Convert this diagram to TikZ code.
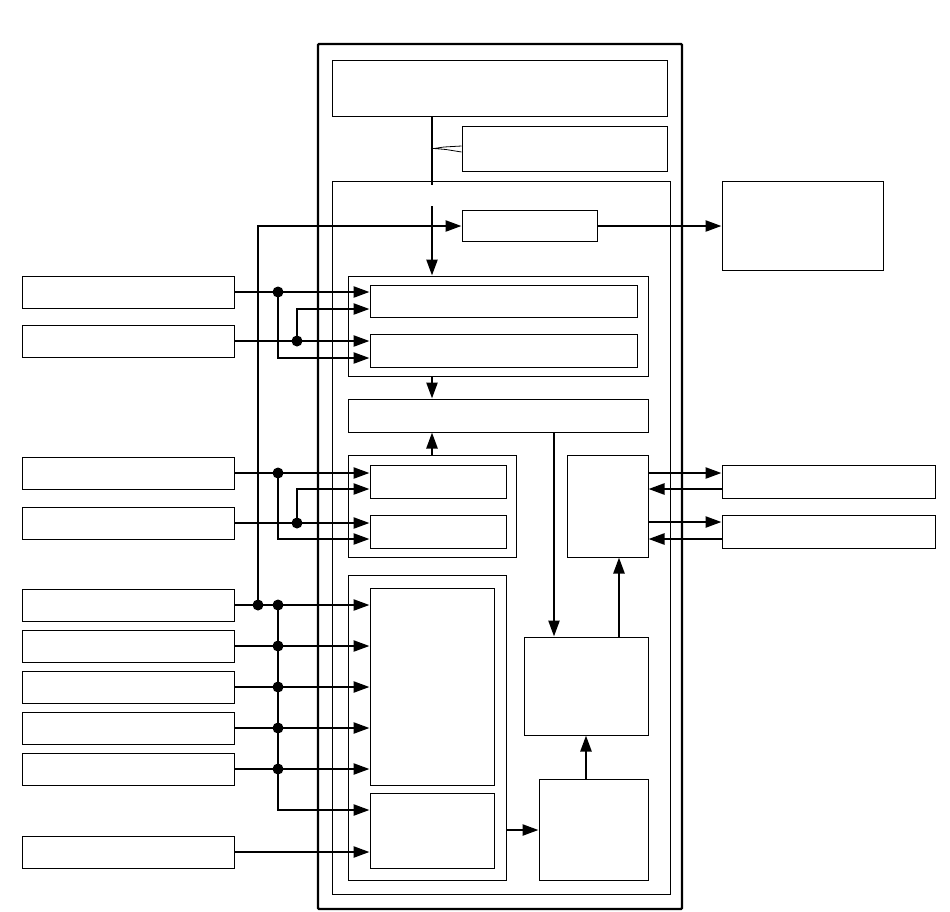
\documentclass[tikz,border=0pt]{standalone}
\usepackage{tikz}
\usetikzlibrary{arrows.meta, positioning, calc}

\begin{document}
\begin{tikzpicture}[x=1pt, y=-1pt, >={Triangle[length=16pt,width=11pt]},
  blk/.style={draw, line width=1pt, minimum width=#1, inner sep=0pt},
  inbox/.style={blk=212pt, minimum height=32pt},
  wire/.style={line width=2.4pt},
  dot/.style={circle, fill, inner sep=0pt, minimum size=11pt}]
\useasboundingbox (0,0) rectangle (950,911);
% housing and frames
\node[draw, line width=2.4pt, minimum width=364pt, minimum height=865pt, rounded corners=1pt] (case) at (500,476.5) {};
\node[blk=335pt, minimum height=56pt] (top) at (499.5,88) {};
\node[blk=205pt, minimum height=45pt] (radio) at (564.5,148.5) {};
\node[blk=338pt, minimum height=713pt] (frame) at (501,537.5) {};
\node[blk=135pt, minimum height=31pt] (enc) at (529.5,226) {};
\node[blk=161pt, minimum height=89pt] (ext) at (802.5,225.5) {};
% group 1
\node[blk=300pt, minimum height=100pt] (g1) at (498,326) {};
\node[blk=267pt, minimum height=32pt] (g1a) at (503.5,301) {};
\node[blk=267pt, minimum height=33pt] (g1b) at (503.5,350.5) {};
\node[blk=300pt, minimum height=33pt] (mid) at (498,415.5) {};
% group 2
\node[blk=168pt, minimum height=102pt] (g2) at (432,506) {};
\node[blk=136pt, minimum height=33pt] (g2a) at (438,481.5) {};
\node[blk=136pt, minimum height=33pt] (g2b) at (438,531.5) {};
\node[blk=81pt, minimum height=102pt] (port) at (607.5,506) {};
\node[blk=213pt, minimum height=33pt] (r1) at (828.5,481.5) {};
\node[blk=213pt, minimum height=33pt] (r2) at (828.5,531.5) {};
% group 3
\node[blk=158pt, minimum height=305pt] (g3) at (427,727.5) {};
\node[blk=124pt, minimum height=197pt] (g3a) at (432,686.5) {};
\node[blk=124pt, minimum height=75pt] (g3b) at (432,830.5) {};
\node[blk=124pt, minimum height=98pt] (cpu) at (586,686) {};
\node[blk=109pt, minimum height=101pt] (pwr) at (593.5,830) {};
% inputs
\node[inbox] (in1) at (128,292) {};
\node[inbox] (in2) at (128,341) {};
\node[inbox] (in3) at (128,473) {};
\node[inbox] (in4) at (128,523) {};
\foreach \i/\y in {5/605,6/646,7/687,8/728,9/769,10/852}
  \node[inbox] (in\i) at (128,\y) {};

\coordinate (tapA) at (432,185);
\coordinate (tapB) at (432,206);
\coordinate (j0) at (258,605);
\coordinate (busend) at (278,810);
\coordinate (xm) at (554,0);
\coordinate (xr) at (619,0);

% top link
\draw[wire] (top.south -| tapA) -- (tapA);
\draw[wire,->] (tapB) -- (tapB |- g1.north);
\draw[line width=.8pt] ([yshift=2.5pt]radio.west) -- (444,147) -- (434,148.5) -- (446,149.5) -- ([yshift=-3.5pt]radio.west);
\draw[wire,->] (j0) |- (enc.west);
\draw[wire,->] (enc.east) -- (enc.east -| ext.west);
\node[dot] at (j0) {};

% group 1 inputs
\draw[wire,->] (in1.east) -- (in1 -| g1a.west);
\draw[wire,->] (in2.east) -- (in2 -| g1b.west);
\node[dot] (d1) at (278,292) {};
\node[dot] (d2) at (297,341) {};
\draw[wire,->] (d1.center) |- ([yshift=-7.5pt]g1b.west);
\draw[wire,->] (d2.center) |- ([yshift=-8pt]g1a.west);
\draw[wire,->] (g1.south -| tapA) -- (mid.north -| tapA);

% group 2 inputs
\draw[wire,->] (in3.east) -- (in3 -| g2a.west);
\draw[wire,->] (in4.east) -- (in4 -| g2b.west);
\node[dot] (d3) at (278,473) {};
\node[dot] (d4) at (297,523) {};
\draw[wire,->] (d3.center) |- ([yshift=-7.5pt]g2b.west);
\draw[wire,->] (d4.center) |- ([yshift=-7.5pt]g2a.west);
\draw[wire,->] (g2.north -| tapA) -- (mid.south -| tapA);

% ports
\draw[wire,->] ([yshift=8.5pt]r1.west -| port.east) -- ([yshift=8.5pt]r1.west);
\draw[wire,<-] ([yshift=-7.5pt]r1.west -| port.east) -- ([yshift=-7.5pt]r1.west);
\draw[wire,->] ([yshift=9.5pt]r2.west -| port.east) -- ([yshift=9.5pt]r2.west);
\draw[wire,<-] ([yshift=-7.5pt]r2.west -| port.east) -- ([yshift=-7.5pt]r2.west);

% group 3 inputs
\foreach \i in {5,...,9}{
  \draw[wire,->] (in\i.east) -- (in\i -| g3a.west);
  \node[dot] at (in\i -| busend) {};
}
\draw[wire,->] (in5 -| busend) -- (busend) -- (busend -| g3b.west);
\draw[wire,->] (in10.east) -- (in10 -| g3b.west);

% processing chain
\draw[wire,->] (mid.south -| xm) -- (cpu.north -| xm);
\draw[wire,->] (cpu.north -| xr) -- (port.south -| xr);
\draw[wire,->] (pwr.north -| cpu.south) -- (cpu.south);
\draw[wire,->] (g3.east |- pwr.west) -- (pwr.west);
\end{tikzpicture}
\end{document}
